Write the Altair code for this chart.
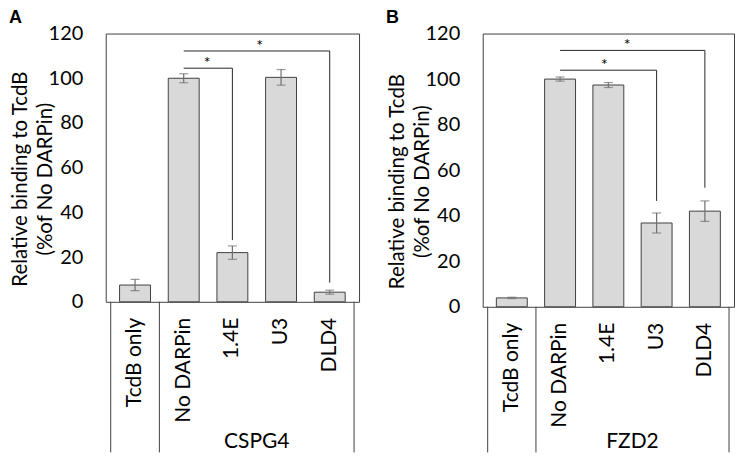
import altair as alt
import pandas as pd

# ---- data ----
categories = ["TcdB only", "No DARPin", "1.4E", "U3", "DLD4"]
positions = [0, 1, 2, 3, 4]

a_values = [7.5, 100.0, 22.0, 100.4, 4.3]
a_errors = [2.5, 2.0, 3.0, 3.5, 0.9]
b_values = [3.9, 100.0, 97.4, 36.8, 42.0]
b_errors = [0.3, 0.9, 1.1, 4.4, 4.5]

separator_positions = [-0.5, 0.5, 4.5]
group_position = [2.5]
a_group = ["CSPG4"]
b_group = ["FZD2"]

# significance brackets (start category, end category, bar level, drop-to level)
a_br_from = [1, 1]
a_br_to = [2, 4]
a_br_level = [104.5, 112.2]
a_br_drop = [27.6, 8.6]
a_star_pos = [1.48, 2.56]
a_star_level = [106.8, 114.6]

b_br_from = [1, 1]
b_br_to = [3, 4]
b_br_level = [103.9, 112.6]
b_br_drop = [46.5, 52.3]
b_star_pos = [1.92, 2.39]
b_star_level = [106.2, 115.1]

y_ticks = [0, 20, 40, 60, 80, 100, 120]
y_title = ["Relative binding to TcdB", "(%of No DARPin)"]

FONT = "Lato"
DARK = "#404040"
ERR = "#6f6f6f"


def panel(letter, values, errors, group, br_from, br_to, br_level, br_drop,
          star_pos, star_level, w, h, group_gap, sep_len):
    df = pd.DataFrame({
        "cat": categories,
        "pos": positions,
        "value": values,
        "lo": [v - e for v, e in zip(values, errors)],
        "hi": [v + e for v, e in zip(values, errors)],
    })
    br = pd.DataFrame({"x1": br_from, "x2": br_to, "lvl": br_level, "drop": br_drop})
    stars = pd.DataFrame({"pos": star_pos, "lvl": star_level, "t": ["*"] * len(star_pos)})
    seps = pd.DataFrame({"pos": separator_positions})
    grp = pd.DataFrame({"pos": group_position, "t": group})
    let = pd.DataFrame({"t": [letter]})

    xs = alt.Scale(domain=[-0.5, 4.5], nice=False, zero=False)
    ys = alt.Scale(domain=[0, 120], nice=False)
    yaxis = alt.Axis(values=y_ticks, ticks=False, tickSize=0, domain=False, grid=False,
                     labelFont=FONT, labelFontSize=20, labelColor="black", labelPadding=23,
                     title=y_title, titleFont=FONT, titleFontSize=20.5, titleFontWeight="normal",
                     titleColor="black", titlePadding=-7, titleLineHeight=25,
                     titleY=h / 2 + 11)

    def X(f):
        return alt.X(f, type="quantitative", scale=xs, axis=None)

    def Y(f):
        return alt.Y(f, type="quantitative", scale=ys, axis=yaxis, title=y_title)

    bars = alt.Chart(df).mark_bar(size=31, fill="#d9d9d9", stroke=DARK, strokeWidth=1).encode(
        x=X("pos"), y=Y("value"))
    err = alt.Chart(df).mark_rule(color=ERR, strokeWidth=1.2).encode(
        x=X("pos"), y=Y("lo"), y2="hi")
    cap_lo = alt.Chart(df).mark_tick(color=ERR, orient="horizontal", size=9, thickness=1.2).encode(
        x=X("pos"), y=Y("lo"))
    cap_hi = alt.Chart(df).mark_tick(color=ERR, orient="horizontal", size=9, thickness=1.2).encode(
        x=X("pos"), y=Y("hi"))
    br_h = alt.Chart(br).mark_rule(color="#262626", strokeWidth=1).encode(
        x=X("x1"), x2="x2", y=Y("lvl"))
    br_v = alt.Chart(br).mark_rule(color="#262626", strokeWidth=1).encode(
        x=X("x2"), y=Y("lvl"), y2="drop")
    star = alt.Chart(stars).mark_text(font=FONT, fontSize=16, color="black",
                                      baseline="middle").encode(
        x=X("pos"), y=Y("lvl"), text="t:N")
    labels = alt.Chart(df).mark_text(font=FONT, fontSize=21, color="black", angle=270,
                                     align="right", baseline="middle").encode(
        x=X("pos"), y=alt.value(h + 16), text="cat:N")
    sep = alt.Chart(seps).mark_rule(color=DARK, strokeWidth=1).encode(
        x=X("pos"), y=alt.value(h), y2=alt.value(h + sep_len))
    glab = alt.Chart(grp).mark_text(font=FONT, fontSize=21, color="black",
                                    baseline="middle").encode(
        x=X("pos"), y=alt.value(h + group_gap), text="t:N")
    letter_mark = alt.Chart(let).mark_text(font="Liberation Sans", fontSize=18, fontWeight="bold",
                                           color="black", align="left",
                                           baseline="alphabetic").encode(
        x=alt.value(-97), y=alt.value(-10.5), text="t:N")

    return alt.layer(bars, err, cap_lo, cap_hi, br_h, br_v, star, labels, sep, glab,
                     letter_mark).properties(width=w, height=h)


pa = panel("A", a_values, a_errors, a_group, a_br_from, a_br_to, a_br_level, a_br_drop,
           a_star_pos, a_star_level, 254, 269, 141, 151)
pb = panel("B", b_values, b_errors, b_group, b_br_from, b_br_to, b_br_level, b_br_drop,
           b_star_pos, b_star_level, 252, 274, 136, 146)

chart = alt.hconcat(pa, pb, spacing=25).properties(padding=0).configure_view(
    stroke=DARK, strokeWidth=1)

chart.save("out.html", embed_options={"renderer": "svg", "actions": False})
